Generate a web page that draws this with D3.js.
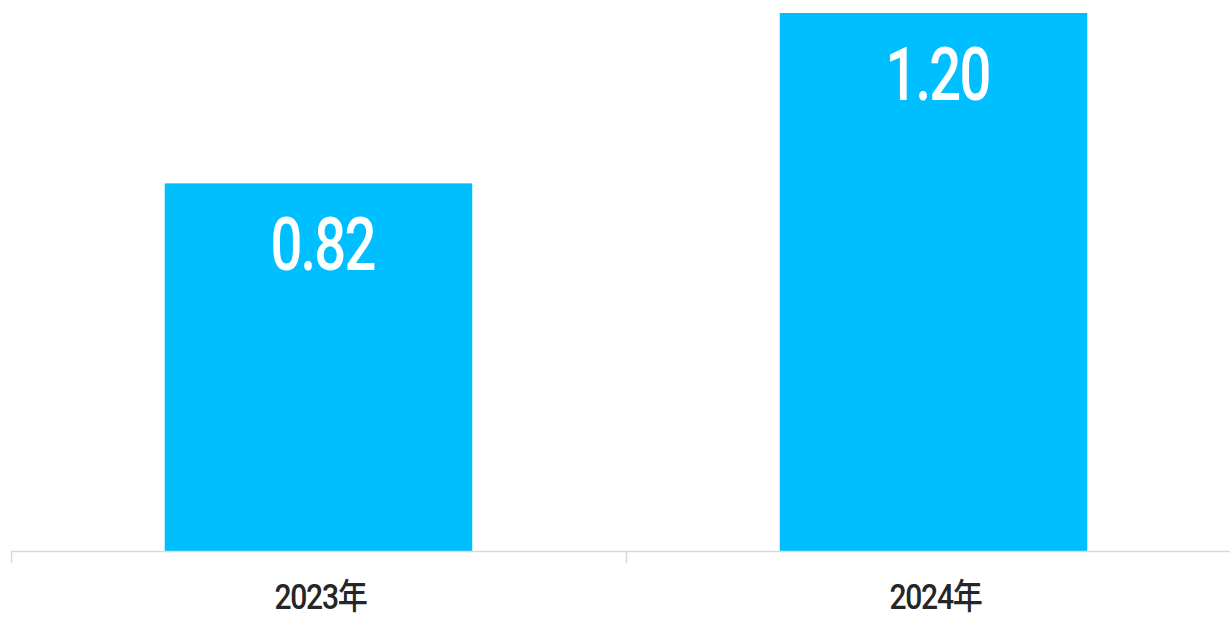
<!DOCTYPE html>
<html>
<head>
<meta charset="utf-8">
<script src="https://cdn.jsdelivr.net/npm/d3@7"></script>
<style>
  html, body { margin: 0; padding: 0; background: #fff; }
  svg { display: block; }
</style>
</head>
<body>
<svg id="chart" width="1230" height="617"></svg>
<script>
// Annual values shown as bars
const categories = ["2023年", "2024年"];
const values = [0.82, 1.20];
const valueLabels = ["0.82", "1.20"];

const width = 1230, height = 617;
const svg = d3.select("#chart");

const x = d3.scaleBand().domain(categories).range([11, 1241]).paddingInner(0).paddingOuter(0);
const y = d3.scaleLinear().domain([0, 1.2]).range([551, 13]);
const barW = x.bandwidth() * 0.5;

// Bars
svg.append("g").selectAll("rect")
  .data(categories)
  .join("rect")
  .attr("x", (d) => x(d) + (x.bandwidth() - barW) / 2)
  .attr("y", (d, i) => y(values[i]))
  .attr("width", barW)
  .attr("height", (d, i) => y(0) - y(values[i]))
  .attr("fill", "#00BFFF");

// Value labels inside the bars (condensed numerals)
svg.append("g").selectAll("text")
  .data(categories)
  .join("text")
  .attr("transform", (d, i) => `translate(${x(d) + x.bandwidth() / 2 + 4},${y(values[i]) + 87}) scale(0.76,1)`)
  .attr("text-anchor", "middle")
  .attr("font-family", "Roboto, 'Noto Sans', sans-serif")
  .attr("font-size", 74)
  .attr("font-weight", 500)
  .attr("letter-spacing", -2.5)
  .attr("fill", "#ffffff")
  .text((d, i) => valueLabels[i]);

// Category axis: baseline with tick marks at band edges
const axis = svg.append("g").attr("class", "x-axis");
axis.append("line")
  .attr("x1", x.range()[0]).attr("x2", x.range()[1])
  .attr("y1", y(0) + 0.5).attr("y2", y(0) + 0.5)
  .attr("stroke", "#d9d9d9").attr("stroke-width", 1.5);
const edges = categories.map((d) => x(d)).concat([x.range()[1]]);
axis.selectAll("line.tick")
  .data(edges)
  .join("line")
  .attr("class", "tick")
  .attr("x1", (d) => d + 0.5).attr("x2", (d) => d + 0.5)
  .attr("y1", y(0)).attr("y2", y(0) + 12)
  .attr("stroke", "#d9d9d9").attr("stroke-width", 1.5);

axis.selectAll("text")
  .data(categories)
  .join("text")
  .attr("transform", (d) => `translate(${x(d) + x.bandwidth() / 2 + 2},609) scale(0.86,1)`)
  .attr("text-anchor", "middle")
  .attr("font-family", "Roboto, 'Noto Sans CJK SC', sans-serif")
  .attr("font-size", 35)
  .attr("font-weight", 500)
  .attr("letter-spacing", -1.5)
  .attr("fill", "#262626")
  .text((d) => d);
</script>
</body>
</html>
